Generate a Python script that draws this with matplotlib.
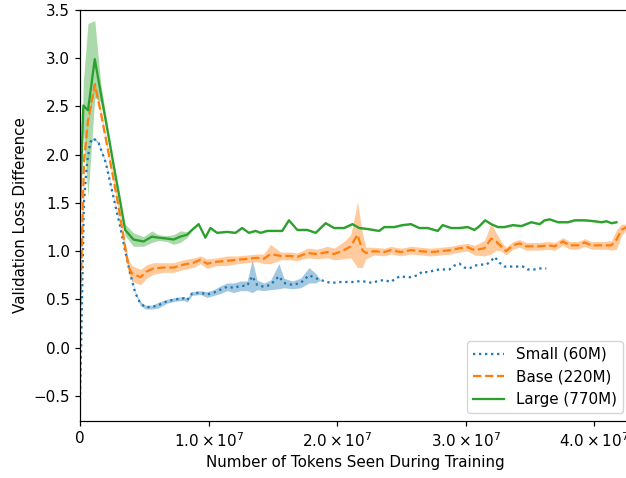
import numpy as np
import matplotlib
matplotlib.use("Agg")
import matplotlib.pyplot as plt
from matplotlib.ticker import FuncFormatter

# ---- Data (x in millions of tokens) ----
small_x = [0.0, 0.15, 0.3, 0.55, 0.8, 1.05, 1.45, 2.0, 2.6, 3.1, 3.5, 3.9, 4.29, 4.68,
           5.07, 5.59, 6.1, 6.76, 7.4, 8.06, 8.32, 8.71, 9.36, 9.88, 10.4, 10.92, 11.44,
           11.96, 12.48, 13.0, 13.39, 13.78, 14.3, 14.82, 15.47, 15.86, 16.51, 17.16,
           17.81, 18.33, 18.72, 19.5, 20.28, 20.8, 21.32, 21.84, 22.36, 22.75, 23.14,
           23.66, 24.18, 24.57, 24.96, 25.35, 25.74, 26.26, 26.65, 27.04, 27.56, 27.95,
           28.34, 28.73, 29.12, 29.51, 29.9, 30.29, 30.68, 31.2, 31.59, 31.93, 32.24,
           32.63, 33.02, 33.54, 34.06, 34.45, 34.84, 35.36, 35.75, 36.27]
small_y = [-0.55, 0.45, 1.5, 1.92, 2.13, 2.17, 2.12, 1.92, 1.56, 1.27, 1.01, 0.77, 0.57, 0.46,
           0.42, 0.42, 0.44, 0.48, 0.50, 0.51, 0.49, 0.56, 0.57, 0.55, 0.57, 0.60, 0.63,
           0.62, 0.64, 0.64, 0.74, 0.65, 0.63, 0.65, 0.74, 0.67, 0.65, 0.67,
           0.75, 0.72, 0.70, 0.67, 0.68, 0.68, 0.68, 0.69, 0.68, 0.67, 0.69,
           0.70, 0.68, 0.72, 0.74, 0.73, 0.73, 0.75, 0.79, 0.78, 0.80, 0.81,
           0.81, 0.81, 0.85, 0.87, 0.83, 0.82, 0.85, 0.86, 0.86, 0.89, 0.94,
           0.88, 0.84, 0.84, 0.84, 0.84, 0.81, 0.81, 0.82, 0.82]
small_sd = [0.0, 0.0, 0.01, 0.01, 0.01, 0.01, 0.01, 0.01, 0.01, 0.01, 0.01, 0.01, 0.01, 0.02,
            0.02, 0.02, 0.03, 0.02, 0.02, 0.02, 0.02, 0.02, 0.02, 0.03, 0.03, 0.04, 0.04,
            0.05, 0.05, 0.05, 0.17, 0.05, 0.04, 0.05, 0.13, 0.05, 0.04, 0.05,
            0.08, 0.05, 0.0, 0.0, 0.0, 0.0, 0.0, 0.0, 0.0, 0.0, 0.0,
            0.0, 0.0, 0.0, 0.0, 0.0, 0.0, 0.0, 0.0, 0.0, 0.0, 0.0,
            0.0, 0.0, 0.0, 0.0, 0.0, 0.0, 0.0, 0.0, 0.0, 0.0, 0.0,
            0.0, 0.0, 0.0, 0.0, 0.0, 0.0, 0.0, 0.0, 0.0]

base_x = [0.0, 0.31, 0.62, 1.15, 1.6, 2.1, 2.6, 3.1, 3.5, 3.77, 4.03, 4.7, 5.2, 5.72,
          6.5, 7.28, 8.06, 8.84, 9.36, 9.88, 10.66, 11.44, 12.22, 13.0, 13.78, 14.3,
          14.82, 15.6, 16.38, 16.9, 17.68, 18.46, 19.24, 19.76, 20.54, 21.06, 21.58,
          21.97, 22.23, 22.88, 23.66, 24.18, 24.96, 25.74, 26.52, 27.3, 28.08, 28.86,
          29.51, 30.16, 30.68, 31.46, 31.98, 32.37, 32.76, 33.15, 33.67, 34.19, 34.71,
          35.1, 35.75, 36.4, 36.92, 37.57, 38.09, 38.74, 39.26, 39.78, 40.3, 40.82,
          41.34, 41.73, 42.12, 42.51]
base_y = [0.3, 1.94, 2.35, 2.73, 2.45, 2.1, 1.75, 1.38, 1.05, 0.84, 0.77, 0.73, 0.79, 0.82,
          0.83, 0.83, 0.86, 0.88, 0.91, 0.87, 0.89, 0.90, 0.91, 0.92, 0.93, 0.92,
          0.97, 0.95, 0.95, 0.94, 0.98, 0.97, 0.99, 0.97, 1.01, 1.05, 1.17,
          1.01, 0.98, 1.00, 0.99, 1.01, 0.99, 1.01, 1.00, 0.99, 1.00, 1.01,
          1.03, 1.04, 1.01, 1.03, 1.13, 1.10, 1.05, 1.00, 1.06, 1.08, 1.05,
          1.05, 1.05, 1.06, 1.05, 1.10, 1.06, 1.06, 1.09, 1.06, 1.06, 1.06,
          1.06, 1.12, 1.22, 1.25]
base_sd = [0.02, 0.03, 0.03, 0.03, 0.03, 0.03, 0.03, 0.04, 0.05, 0.07, 0.08, 0.08, 0.07, 0.06,
           0.05, 0.05, 0.05, 0.05, 0.04, 0.05, 0.04, 0.05, 0.04, 0.04, 0.04, 0.05,
           0.10, 0.04, 0.04, 0.04, 0.05, 0.05, 0.06, 0.06, 0.09, 0.12, 0.34,
           0.18, 0.06, 0.04, 0.04, 0.04, 0.04, 0.04, 0.04, 0.04, 0.04, 0.04,
           0.04, 0.04, 0.05, 0.08, 0.16, 0.09, 0.05, 0.04, 0.04, 0.04, 0.04,
           0.04, 0.04, 0.04, 0.04, 0.04, 0.04, 0.04, 0.04, 0.04, 0.04, 0.04,
           0.05, 0.10, 0.06, 0.03]

large_x = [0.0, 0.26, 0.62, 1.15, 1.6, 2.1, 2.6, 3.1, 3.51, 4.16, 4.94, 5.59, 6.08, 6.76,
           7.28, 7.8, 8.32, 8.71, 9.23, 9.75, 10.14, 10.66, 11.44, 12.09, 12.61, 13.13,
           13.65, 14.04, 14.56, 15.73, 16.25, 16.9, 17.68, 18.33, 19.11, 19.76, 20.54,
           21.19, 21.71, 22.36, 23.27, 23.66, 24.44, 25.09, 25.74, 26.39, 27.04, 27.82,
           28.21, 28.86, 29.51, 30.16, 30.68, 31.07, 31.51, 31.98, 32.5, 33.02, 33.67,
           34.32, 35.1, 35.75, 36.14, 36.53, 37.18, 37.96, 38.48, 39.26, 40.04, 40.56,
           40.95, 41.34, 41.73]
large_y = [1.45, 2.51, 2.46, 2.99, 2.65, 2.28, 1.90, 1.53, 1.22, 1.12, 1.10, 1.15, 1.14, 1.13,
           1.12, 1.15, 1.17, 1.22, 1.28, 1.14, 1.24, 1.19, 1.20, 1.19, 1.24, 1.19,
           1.21, 1.19, 1.21, 1.21, 1.32, 1.22, 1.22, 1.19, 1.29, 1.24, 1.24,
           1.28, 1.24, 1.23, 1.21, 1.25, 1.25, 1.27, 1.28, 1.24, 1.24, 1.21,
           1.27, 1.24, 1.24, 1.25, 1.22, 1.26, 1.32, 1.28, 1.25, 1.25, 1.27,
           1.26, 1.30, 1.28, 1.32, 1.33, 1.30, 1.30, 1.32, 1.32, 1.31, 1.30,
           1.31, 1.29, 1.30]
large_sd = [0.05, 0.25, 0.9, 0.4, 0.1, 0.06, 0.05, 0.05, 0.06, 0.07, 0.05, 0.06, 0.03, 0.03,
            0.05, 0.06, 0.03, 0.01, 0.01, 0.01, 0.01, 0.01, 0.01, 0.01, 0.01, 0.01,
            0.01, 0.01, 0.01, 0.01, 0.01, 0.01, 0.01, 0.01, 0.01, 0.01, 0.01,
            0.01, 0.01, 0.01, 0.01, 0.01, 0.01, 0.01, 0.01, 0.01, 0.01, 0.01,
            0.01, 0.01, 0.01, 0.01, 0.01, 0.01, 0.01, 0.01, 0.01, 0.01, 0.01,
            0.01, 0.01, 0.01, 0.01, 0.01, 0.01, 0.01, 0.01, 0.01, 0.01, 0.01,
            0.01, 0.01, 0.01]

series = [
    ("Small (60M)", small_x, small_y, small_sd, "tab:blue", ":"),
    ("Base (220M)", base_x, base_y, base_sd, "tab:orange", "--"),
    ("Large (770M)", large_x, large_y, large_sd, "tab:green", "-"),
]

# reference looks like a slightly upscaled default figure
s = 1.09
plt.rcParams.update({
    "font.size": 10 * s,
    "lines.linewidth": 1.5 * s,
    "axes.linewidth": 0.8 * s,
    "xtick.major.size": 3.5 * s,
    "ytick.major.size": 3.5 * s,
    "xtick.major.width": 0.8 * s,
    "ytick.major.width": 0.8 * s,
})

fig = plt.figure(figsize=(6.26, 4.78), dpi=100)
ax = fig.add_axes([0.1278, 0.1199, 0.879, 0.8592])

for label, xs, ys, sd, color, ls in series:
    x = np.array(xs) * 1e6
    y = np.array(ys)
    e = np.array(sd)
    ax.fill_between(x, y - e, y + e, color=color, alpha=0.4, linewidth=0)
    ax.plot(x, y, color=color, linestyle=ls, label=label)


def sci_fmt(v, pos):
    if v == 0:
        return "0"
    exp = int(np.floor(np.log10(abs(v))))
    return r"$%.1f \times 10^{%d}$" % (v / 10**exp, exp)


ax.xaxis.set_major_formatter(FuncFormatter(sci_fmt))
ax.set_xticks([0, 1e7, 2e7, 3e7, 4e7])
ax.set_xlim(0, 4.28e7)
ax.set_ylim(-0.758, 3.5)
ax.set_xlabel("Number of Tokens Seen During Training")
ax.set_ylabel("Validation Loss Difference")
ax.legend(loc="lower right")

fig.savefig("out.png", dpi=100)
